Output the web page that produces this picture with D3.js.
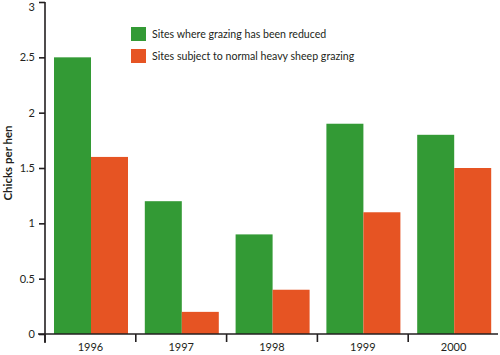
<!DOCTYPE html>
<html><head><meta charset="utf-8">
<script src="https://cdn.jsdelivr.net/npm/d3@7/dist/d3.min.js"></script>
<style>body{margin:0;background:#fff}svg{display:block}text{font-family:Lato,"Open Sans",sans-serif;fill:#231f20}</style>
</head><body><svg id="c" width="500" height="355"></svg>
<script>
const years = ["1996","1997","1998","1999","2000"];
const seriesNames = ["Sites where grazing has been reduced","Sites subject to normal heavy sheep grazing"];
const reduced = [2.5, 1.2, 0.9, 1.9, 1.8];
const normal = [1.6, 0.2, 0.4, 1.1, 1.5];
const yTicks = [0, 0.5, 1, 1.5, 2, 2.5, 3];
const colors = ["#339a35", "#e65423"];

const svg = d3.select("#c");
const x = d3.scaleBand().domain(years).range([45, 499]).padding(0);
const x1 = d3.scaleBand().domain([0,1]).range([9, 83]);
const y = d3.scaleLinear().domain([0,3]).range([334, 2]);
const vals = [reduced, normal];

years.forEach((yr,i)=>{
  vals.forEach((arr,s)=>{
    svg.append("rect").attr("x", x(yr)+x1(s)).attr("width", x1.bandwidth())
      .attr("y", y(arr[i])).attr("height", y(0)-y(arr[i])).attr("fill", colors[s]);
  });
});

const yAxis = d3.axisLeft(y).tickValues(yTicks).tickSize(6).tickPadding(4).tickFormat(d=>String(d));
const gy = svg.append("g").attr("transform","translate(45,0)").call(yAxis);
gy.select(".domain").attr("d","M0,2V343").attr("stroke","#231f20").attr("stroke-width",1.6);
gy.selectAll(".tick line").attr("stroke","#231f20").attr("stroke-width",1.6);
gy.selectAll(".tick text").attr("font-size",11).style("fill","#231f20")
  .attr("dy", d => d === 3 ? "0.8em" : "0.32em");

const xAxis = d3.axisBottom(x).tickSize(0).tickPadding(9);
const gx = svg.append("g").attr("transform","translate(0,334)").call(xAxis);
gx.select(".domain").attr("d","M38,0H498").attr("stroke","#231f20").attr("stroke-width",1.6);
gx.selectAll(".tick text").attr("font-size",11).style("fill","#231f20");
years.forEach(yr=>{
  gx.append("line").attr("x1",x(yr)).attr("x2",x(yr)).attr("y1",0).attr("y2",8)
    .attr("stroke","#231f20").attr("stroke-width",1.6);
});

svg.append("text").attr("transform","translate(12,163) rotate(-90)")
  .attr("text-anchor","middle").attr("font-size",11.5).attr("font-weight","bold")
  .text("Chicks per hen");

const lg = svg.append("g");
seriesNames.forEach((n,s)=>{
  lg.append("rect").attr("x",131).attr("y",27+s*22).attr("width",15).attr("height",14).attr("fill",colors[s]);
  lg.append("text").attr("x",152).attr("y",38+s*22).attr("font-size",10.6).text(n);
});
</script></body></html>
